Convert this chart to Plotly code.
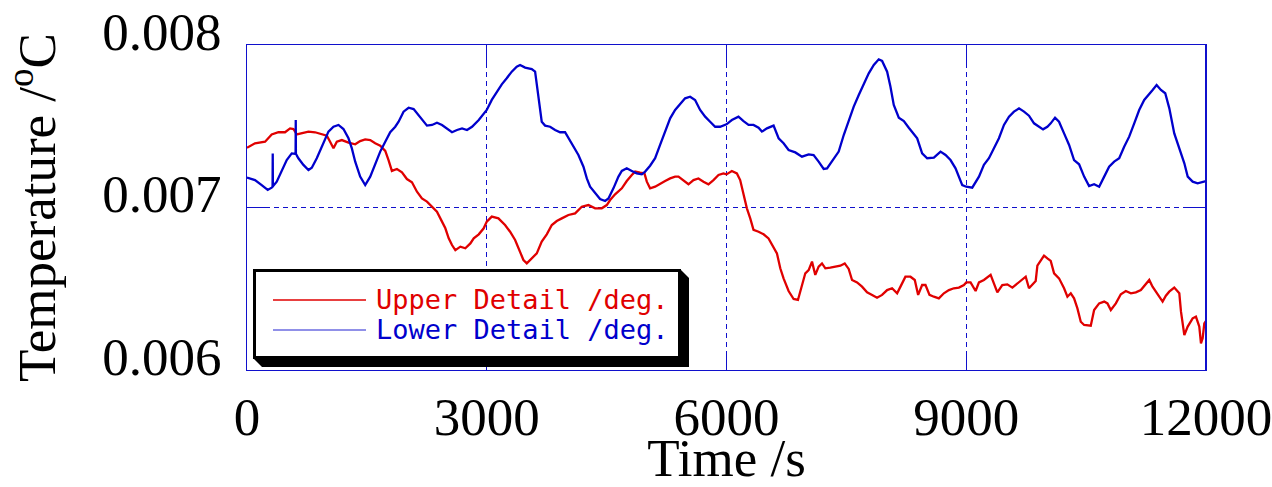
import plotly.graph_objects as go

# Time axis samples (s) and temperature detail values for the upper sensor
upper_time = [
    0, 100, 226, 309, 393, 476, 539, 581, 623, 685, 769, 852, 936, 999, 1040, 1082, 1124, 1187,
    1270, 1354, 1416, 1479, 1542, 1604, 1667, 1730, 1771, 1813, 1876, 1939, 2001, 2064, 2127,
    2189, 2252, 2315, 2377, 2440, 2482, 2524, 2565, 2607, 2670, 2732, 2795, 2837, 2900, 2962,
    3000, 3063, 3146, 3229, 3292, 3355, 3417, 3459, 3501, 3563, 3626, 3688, 3751, 3814, 3876,
    3939, 4022, 4106, 4189, 4272, 4356, 4439, 4502, 4544, 4606, 4690, 4752, 4815, 4857, 4919,
    4973, 5003, 5044, 5107, 5169, 5232, 5295, 5357, 5399, 5461, 5524, 5587, 5649, 5712, 5774,
    5837, 5900, 5962, 6000, 6067, 6130, 6171, 6213, 6255, 6297, 6338, 6401, 6464, 6526, 6589,
    6631, 6673, 6714, 6777, 6840, 6894, 6944, 6986, 7028, 7070, 7111, 7153, 7195, 7237, 7299,
    7362, 7425, 7479, 7529, 7571, 7634, 7696, 7759, 7822, 7884, 7947, 8010, 8072, 8135, 8177,
    8239, 8302, 8356, 8398, 8448, 8490, 8540, 8595, 8657, 8720, 8783, 8845, 8908, 8971, 9000,
    9054, 9117, 9159, 9221, 9305, 9347, 9389, 9451, 9514, 9577, 9639, 9702, 9744, 9785, 9827,
    9869, 9890, 9932, 9973, 10015, 10057, 10099, 10161, 10224, 10266, 10308, 10349, 10391,
    10433, 10475, 10517, 10558, 10600, 10663, 10726, 10767, 10809, 10872, 10934, 10997, 11060,
    11122, 11185, 11248, 11290, 11331, 11394, 11457, 11498, 11540, 11603, 11666, 11687, 11729,
    11771, 11833, 11874, 11895, 11916, 11937, 11958, 11979, 12000,
]
upper_temp = [
    0.007368, 0.007395, 0.007405, 0.007450, 0.007463, 0.007463, 0.007487, 0.007483, 0.007450,
    0.007456, 0.007467, 0.007463, 0.007450, 0.007442, 0.007405, 0.007364, 0.007405, 0.007415,
    0.007399, 0.007389, 0.007409, 0.007419, 0.007415, 0.007395, 0.007381, 0.007348, 0.007292,
    0.007225, 0.007237, 0.007216, 0.007175, 0.007155, 0.007097, 0.007056, 0.007036, 0.007005,
    0.006974, 0.006913, 0.006872, 0.006810, 0.006769, 0.006738, 0.006759, 0.006749, 0.006779,
    0.006810, 0.006835, 0.006872, 0.006913, 0.006944, 0.006933, 0.006892, 0.006851, 0.006800,
    0.006728, 0.006677, 0.006656, 0.006687, 0.006718, 0.006790, 0.006835, 0.006892, 0.006917,
    0.006933, 0.006954, 0.006964, 0.007005, 0.007015, 0.006995, 0.006995, 0.007015, 0.007046,
    0.007081, 0.007118, 0.007163, 0.007200, 0.007221, 0.007214, 0.007210, 0.007159, 0.007118,
    0.007128, 0.007143, 0.007163, 0.007179, 0.007190, 0.007190, 0.007169, 0.007143, 0.007169,
    0.007179, 0.007159, 0.007143, 0.007169, 0.007200, 0.007210, 0.007204, 0.007225, 0.007210,
    0.007169, 0.007077, 0.006995, 0.006933, 0.006862, 0.006851, 0.006835, 0.006810, 0.006759,
    0.006718, 0.006626, 0.006564, 0.006486, 0.006437, 0.006431, 0.006523, 0.006595, 0.006615,
    0.006667, 0.006585, 0.006636, 0.006656, 0.006626, 0.006630, 0.006636, 0.006642, 0.006656,
    0.006622, 0.006554, 0.006539, 0.006513, 0.006478, 0.006462, 0.006445, 0.006462, 0.006492,
    0.006503, 0.006472, 0.006513, 0.006574, 0.006574, 0.006554, 0.006462, 0.006523, 0.006523,
    0.006462, 0.006451, 0.006441, 0.006472, 0.006492, 0.006503, 0.006507, 0.006523, 0.006539,
    0.006539, 0.006486, 0.006539, 0.006554, 0.006585, 0.006527, 0.006478, 0.006523, 0.006527,
    0.006507, 0.006533, 0.006560, 0.006574, 0.006503, 0.006523, 0.006548, 0.006642, 0.006677,
    0.006704, 0.006687, 0.006671, 0.006595, 0.006564, 0.006503, 0.006451, 0.006472, 0.006441,
    0.006379, 0.006297, 0.006277, 0.006277, 0.006273, 0.006369, 0.006410, 0.006421, 0.006410,
    0.006369, 0.006410, 0.006466, 0.006486, 0.006472, 0.006478, 0.006492, 0.006527, 0.006554,
    0.006513, 0.006466, 0.006421, 0.006457, 0.006482, 0.006507, 0.006472, 0.006359, 0.006215,
    0.006267, 0.006318, 0.006328, 0.006302, 0.006267, 0.006164, 0.006195, 0.006287, 0.006302,
]

# Time axis samples (s) and temperature detail values for the lower sensor
lower_time = [
    0, 100, 184, 259, 309, 320, 322, 324, 372, 435, 497, 560, 602, 608, 610, 612, 643, 706,
    769, 811, 873, 957, 1019, 1082, 1145, 1207, 1270, 1312, 1354, 1416, 1479, 1542, 1604,
    1667, 1730, 1792, 1855, 1897, 1959, 2022, 2085, 2147, 2210, 2252, 2315, 2377, 2440, 2503,
    2565, 2628, 2691, 2753, 2816, 2900, 2962, 3000, 3063, 3125, 3188, 3250, 3313, 3375, 3417,
    3480, 3563, 3605, 3626, 3655, 3688, 3730, 3793, 3855, 3918, 3980, 4022, 4085, 4147, 4210,
    4252, 4293, 4356, 4418, 4481, 4523, 4585, 4648, 4690, 4752, 4815, 4877, 4940, 4982, 5044,
    5107, 5169, 5232, 5295, 5357, 5420, 5482, 5545, 5607, 5670, 5733, 5795, 5858, 5920, 6000,
    6067, 6150, 6213, 6276, 6338, 6401, 6443, 6506, 6589, 6652, 6714, 6777, 6861, 6944, 7028,
    7090, 7153, 7216, 7258, 7320, 7404, 7467, 7529, 7592, 7655, 7717, 7780, 7843, 7905, 7947,
    8010, 8051, 8093, 8156, 8219, 8281, 8344, 8386, 8448, 8511, 8595, 8678, 8741, 8803, 8866,
    8908, 8950, 9000, 9075, 9159, 9221, 9284, 9347, 9409, 9472, 9535, 9597, 9660, 9723, 9785,
    9848, 9911, 9961, 10015, 10057, 10111, 10161, 10224, 10287, 10349, 10412, 10475, 10537,
    10600, 10663, 10726, 10788, 10851, 10914, 10976, 11039, 11102, 11164, 11227, 11290, 11332,
    11382, 11436, 11490, 11541, 11603, 11666, 11729, 11771, 11833, 11895, 11958, 12000,
]
lower_temp = [
    0.007184, 0.007169, 0.007138, 0.007108, 0.007122, 0.007128, 0.007333, 0.007130, 0.007159,
    0.007231, 0.007292, 0.007333, 0.007333, 0.007330, 0.007538, 0.007330, 0.007303, 0.007262,
    0.007231, 0.007245, 0.007303, 0.007395, 0.007467, 0.007497, 0.007508, 0.007483, 0.007426,
    0.007364, 0.007282, 0.007190, 0.007138, 0.007190, 0.007262, 0.007344, 0.007405, 0.007463,
    0.007497, 0.007528, 0.007590, 0.007614, 0.007606, 0.007569, 0.007528, 0.007504, 0.007508,
    0.007522, 0.007508, 0.007487, 0.007463, 0.007477, 0.007487, 0.007477, 0.007497, 0.007538,
    0.007579, 0.007600, 0.007662, 0.007713, 0.007758, 0.007795, 0.007836, 0.007867, 0.007877,
    0.007861, 0.007852, 0.007836, 0.007754, 0.007631, 0.007528, 0.007504, 0.007497, 0.007477,
    0.007463, 0.007463, 0.007426, 0.007374, 0.007323, 0.007251, 0.007179, 0.007128, 0.007087,
    0.007052, 0.007040, 0.007056, 0.007118, 0.007190, 0.007225, 0.007241, 0.007225, 0.007210,
    0.007204, 0.007221, 0.007257, 0.007303, 0.007385, 0.007467, 0.007549, 0.007600, 0.007635,
    0.007672, 0.007682, 0.007662, 0.007600, 0.007559, 0.007528, 0.007497, 0.007497, 0.007512,
    0.007538, 0.007559, 0.007532, 0.007508, 0.007508, 0.007491, 0.007467, 0.007487, 0.007504,
    0.007426, 0.007395, 0.007354, 0.007339, 0.007313, 0.007327, 0.007323, 0.007282, 0.007237,
    0.007241, 0.007282, 0.007344, 0.007446, 0.007538, 0.007621, 0.007692, 0.007754, 0.007826,
    0.007877, 0.007912, 0.007902, 0.007836, 0.007744, 0.007631, 0.007553, 0.007532, 0.007491,
    0.007456, 0.007426, 0.007333, 0.007303, 0.007307, 0.007344, 0.007323, 0.007292, 0.007241,
    0.007190, 0.007138, 0.007128, 0.007122, 0.007190, 0.007262, 0.007303, 0.007364, 0.007426,
    0.007508, 0.007559, 0.007590, 0.007610, 0.007590, 0.007565, 0.007518, 0.007497, 0.007481,
    0.007497, 0.007518, 0.007553, 0.007528, 0.007456, 0.007385, 0.007292, 0.007266, 0.007190,
    0.007132, 0.007143, 0.007128, 0.007190, 0.007251, 0.007282, 0.007303, 0.007374, 0.007436,
    0.007518, 0.007600, 0.007662, 0.007696, 0.007723, 0.007754, 0.007723, 0.007703, 0.007610,
    0.007456, 0.007364, 0.007272, 0.007190, 0.007159, 0.007149, 0.007155, 0.007163,
]

series_names = ["Upper Detail /deg.", "Lower Detail /deg."]
x_ticks = [0, 3000, 6000, 9000, 12000]
y_ticks = [0.006, 0.007, 0.008]
y_tick_text = ["0.006", "0.007", "0.008"]

RED = "#e00000"
BLUE = "#0000cc"
LEGEND_BLUE = "#6b6be0"
FRAME = "#1010cc"

W, H = 1272, 487
L, R, T, B = 247, 1206, 45, 370


def px(x):
    return (x - L) / (R - L)


def py(y):
    return (B - y) / (B - T)


fig = go.Figure()
fig.add_trace(go.Scatter(x=upper_time, y=upper_temp, mode="lines", name=series_names[0],
                         line=dict(color=RED, width=2.3), showlegend=False))
fig.add_trace(go.Scatter(x=lower_time, y=lower_temp, mode="lines", name=series_names[1],
                         line=dict(color=BLUE, width=2.3), showlegend=False))

serif = "Liberation Serif, Times New Roman, serif"
axis_common = dict(
    showline=True, linecolor=FRAME, linewidth=1, mirror="ticks",
    ticks="inside", ticklen=18, tickcolor=FRAME, tickwidth=1,
    showgrid=True, gridcolor=FRAME, gridwidth=1, griddash="5px,4px",
    zeroline=False, automargin=False, ticklabeloverflow="allow",
    tickfont=dict(family=serif, size=53, color="black"),
)

fig.update_xaxes(range=[0, 12000], tickvals=x_ticks, ticktext=[str(v) for v in x_ticks],
                 title=dict(text="Time /s", font=dict(family=serif, size=53, color="black"),
                            standoff=10),
                 **axis_common)
fig.update_yaxes(range=[0.006, 0.008], tickvals=y_ticks, ticktext=y_tick_text,
                 ticklabelshift=-14, ticklabelstandoff=14,
                 title=dict(text="Temperature /<sup>o</sup>C",
                            font=dict(family=serif, size=53, color="black"), standoff=31),
                 **axis_common)

# Legend panel: drop shadow, framed white box, sample lines and labels
shapes = [
    dict(type="path", xref="paper", yref="paper",
         path=(f"M {px(680)},{py(269)} L {px(689)},{py(278)} L {px(689)},{py(367)} "
               f"L {px(262)},{py(367)} L {px(253)},{py(358)} Z"),
         fillcolor="black", line=dict(width=0), layer="above"),
    dict(type="rect", xref="paper", yref="paper",
         x0=px(254.5), x1=px(679.5), y0=py(357.5), y1=py(270.5),
         fillcolor="white", line=dict(color="black", width=3), layer="above"),
    dict(type="line", xref="paper", yref="paper",
         x0=px(273), x1=px(366), y0=py(300), y1=py(300),
         line=dict(color=RED, width=1.3), layer="above"),
    dict(type="line", xref="paper", yref="paper",
         x0=px(273), x1=px(366), y0=py(330), y1=py(330),
         line=dict(color=LEGEND_BLUE, width=1.6), layer="above"),
    # heavier right-hand frame edge
    dict(type="line", xref="paper", yref="paper", x0=1, x1=1, y0=0, y1=1,
         line=dict(color=FRAME, width=2), layer="above"),
]
mono = "DejaVu Sans Mono, monospace"
annotations = [
    dict(xref="paper", yref="paper", x=px(374), y=py(299), xanchor="left", yanchor="middle",
         text=series_names[0], showarrow=False, font=dict(family=mono, size=27, color=RED)),
    dict(xref="paper", yref="paper", x=px(374), y=py(329), xanchor="left", yanchor="middle",
         text=series_names[1], showarrow=False, font=dict(family=mono, size=27, color=BLUE)),
]

fig.update_layout(
    width=W, height=H,
    margin=dict(l=L, r=W - R, t=T, b=H - B),
    paper_bgcolor="white", plot_bgcolor="white",
    shapes=shapes, annotations=annotations,
    showlegend=False,
)

fig.write_html("out.html")
